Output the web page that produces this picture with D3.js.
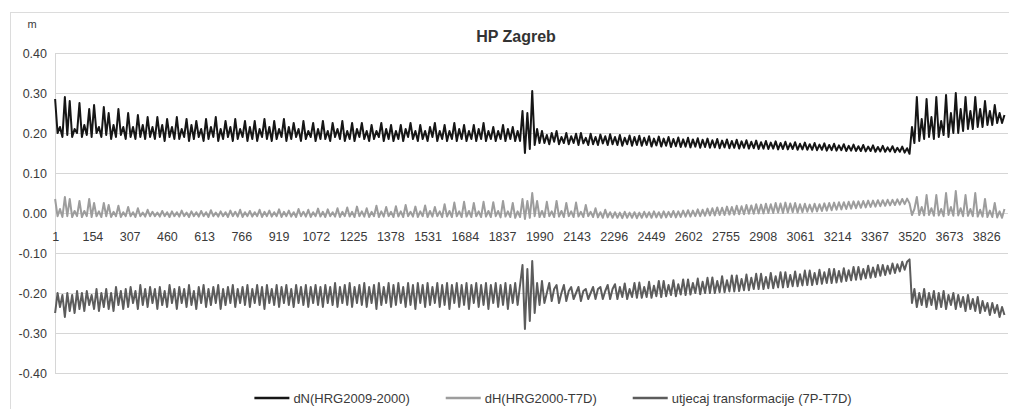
<!DOCTYPE html>
<html>
<head>
<meta charset="utf-8">
<script src="https://cdn.jsdelivr.net/npm/d3@7"></script>
<style>
  body { margin: 0; background: #fff; }
  text { font-family: "Liberation Sans", Arial, sans-serif; }
</style>
</head>
<body>
<div id="chart"></div>
<script>
const nPoints = 3915;
const sampleStep = 10;

const yTicks = [0.4, 0.3, 0.2, 0.1, 0, -0.1, -0.2, -0.3, -0.4];
const xTicks = [1, 154, 307, 460, 613, 766, 919, 1072, 1225, 1378, 1531, 1684, 1837, 1990,
  2143, 2296, 2449, 2602, 2755, 2908, 3061, 3214, 3367, 3520, 3673, 3826];

const seriesNames = ["dN(HRG2009-2000)", "dH(HRG2000-T7D)", "utjecaj transformacije (7P-T7D)"];

const dN = [
  0.285,0.2,0.215,0.19,0.29,0.195,0.28,0.19,0.21,0.2,
  0.275,0.19,0.22,0.195,0.26,0.19,0.27,0.2,0.215,0.19,
  0.265,0.195,0.25,0.185,0.22,0.19,0.26,0.195,0.215,0.185,
  0.25,0.19,0.215,0.185,0.245,0.19,0.22,0.185,0.24,0.19,
  0.215,0.185,0.24,0.19,0.22,0.18,0.235,0.19,0.215,0.185,
  0.24,0.185,0.21,0.19,0.235,0.18,0.22,0.185,0.23,0.19,
  0.21,0.18,0.235,0.185,0.215,0.19,0.24,0.18,0.21,0.185,
  0.23,0.19,0.215,0.18,0.235,0.185,0.21,0.19,0.23,0.18,
  0.215,0.185,0.23,0.18,0.21,0.19,0.235,0.185,0.215,0.18,
  0.23,0.185,0.21,0.19,0.235,0.18,0.215,0.185,0.225,0.19,
  0.21,0.18,0.23,0.185,0.205,0.19,0.225,0.18,0.21,0.185,
  0.23,0.185,0.205,0.18,0.225,0.19,0.21,0.185,0.23,0.18,
  0.205,0.185,0.225,0.18,0.21,0.19,0.225,0.185,0.205,0.18,
  0.22,0.185,0.205,0.19,0.225,0.18,0.21,0.185,0.22,0.18,
  0.205,0.185,0.22,0.18,0.21,0.19,0.225,0.185,0.205,0.18,
  0.22,0.185,0.205,0.18,0.215,0.19,0.225,0.18,0.205,0.185,
  0.22,0.18,0.205,0.185,0.225,0.18,0.21,0.185,0.22,0.18,
  0.205,0.185,0.22,0.18,0.21,0.185,0.225,0.18,0.205,0.185,
  0.215,0.18,0.205,0.185,0.22,0.18,0.21,0.185,0.215,0.18,
  0.205,0.18,0.255,0.15,0.25,0.16,0.305,0.17,0.21,0.175,
  0.205,0.175,0.195,0.172,0.2,0.178,0.205,0.172,0.19,0.175,
  0.2,0.172,0.192,0.175,0.198,0.17,0.2,0.174,0.188,0.17,
  0.198,0.172,0.19,0.17,0.196,0.174,0.192,0.17,0.197,0.172,
  0.19,0.17,0.195,0.168,0.188,0.172,0.194,0.168,0.19,0.17,
  0.193,0.168,0.188,0.17,0.192,0.166,0.186,0.169,0.191,0.166,
  0.186,0.168,0.19,0.165,0.185,0.167,0.189,0.165,0.184,0.166,
  0.188,0.164,0.184,0.166,0.187,0.163,0.183,0.165,0.186,0.163,
  0.182,0.164,0.185,0.162,0.181,0.164,0.184,0.162,0.18,0.163,
  0.183,0.161,0.179,0.163,0.182,0.161,0.178,0.162,0.181,0.16,
  0.177,0.161,0.18,0.16,0.176,0.161,0.179,0.159,0.175,0.16,
  0.178,0.159,0.174,0.16,0.177,0.158,0.173,0.159,0.176,0.158,
  0.172,0.158,0.175,0.157,0.171,0.158,0.174,0.156,0.17,0.157,
  0.173,0.156,0.169,0.157,0.172,0.155,0.168,0.156,0.171,0.155,
  0.167,0.155,0.17,0.154,0.166,0.155,0.169,0.153,0.165,0.154,
  0.168,0.153,0.164,0.154,0.167,0.152,0.163,0.153,0.166,0.151,
  0.162,0.148,0.215,0.175,0.29,0.18,0.235,0.185,0.285,0.19,
  0.24,0.185,0.29,0.19,0.23,0.195,0.295,0.19,0.25,0.2,
  0.3,0.2,0.26,0.205,0.29,0.21,0.255,0.21,0.29,0.215,
  0.26,0.215,0.28,0.22,0.255,0.22,0.27,0.225,0.25,0.225,
  0.245
];

const dH = [
  0.035,-0.008,0.01,-0.01,0.04,-0.008,0.035,-0.01,0.005,-0.008,
  0.03,-0.01,0.005,-0.008,0.035,-0.01,0.025,-0.008,0.004,-0.01,
  0.025,-0.008,0.02,-0.01,0.003,-0.008,0.018,-0.01,0.002,-0.008,
  0.015,-0.008,0.002,-0.01,0.012,-0.008,0.001,-0.009,0.008,-0.008,
  0.003,-0.008,0.001,-0.009,0.005,-0.008,0.002,-0.01,0.004,-0.008,
  0.002,-0.009,0.006,-0.008,0.001,-0.01,0.004,-0.008,0.002,-0.009,
  0.005,-0.008,0.002,-0.01,0.007,-0.008,0.001,-0.009,0.004,-0.008,
  0.002,-0.01,0.006,-0.008,0.003,-0.009,0.008,-0.01,0.002,-0.008,
  0.005,-0.009,0.002,-0.008,0.008,-0.01,0.003,-0.008,0.006,-0.009,
  0.002,-0.008,0.009,-0.01,0.003,-0.008,0.006,-0.009,0.002,-0.01,
  0.01,-0.008,0.003,-0.009,0.008,-0.01,0.002,-0.008,0.011,-0.009,
  0.003,-0.01,0.009,-0.008,0.002,-0.009,0.012,-0.01,0.003,-0.008,
  0.014,-0.009,0.003,-0.01,0.016,-0.008,0.004,-0.009,0.012,-0.01,
  0.003,-0.008,0.018,-0.01,0.004,-0.009,0.015,-0.008,0.003,-0.01,
  0.017,-0.009,0.004,-0.01,0.02,-0.008,0.003,-0.009,0.016,-0.01,
  0.004,-0.008,0.019,-0.01,0.005,-0.009,0.015,-0.008,0.004,-0.01,
  0.022,-0.009,0.005,-0.01,0.026,-0.008,0.004,-0.01,0.028,-0.009,
  0.005,-0.01,0.025,-0.008,0.004,-0.01,0.028,-0.009,0.005,-0.01,
  0.027,-0.008,0.005,-0.011,0.03,-0.009,0.004,-0.01,0.025,-0.012,
  0.004,-0.01,0.035,-0.015,0.03,-0.012,0.05,-0.008,0.03,-0.01,
  0.005,-0.01,0.028,-0.008,0.004,-0.01,0.03,-0.009,0.005,-0.01,
  0.025,-0.008,0.004,-0.01,0.026,-0.009,0.003,-0.01,0.02,-0.008,
  0.003,-0.01,0.012,-0.011,0.002,-0.012,0.008,-0.011,0.002,-0.012,
  0.002,-0.012,0.001,-0.013,0.003,-0.012,0.001,-0.012,0.002,-0.013,
  0.001,-0.012,0.003,-0.011,0.002,-0.012,0.004,-0.011,0.002,-0.012,
  0.004,-0.011,0.003,-0.01,0.005,-0.011,0.004,-0.01,0.006,-0.009,
  0.007,-0.009,0.006,-0.008,0.009,-0.008,0.008,-0.007,0.011,-0.006,
  0.012,-0.006,0.014,-0.005,0.013,-0.005,0.016,-0.004,0.015,-0.004,
  0.018,-0.003,0.017,-0.003,0.02,-0.002,0.019,-0.002,0.022,-0.001,
  0.021,-0.001,0.023,0.0,0.022,0.0,0.025,0.001,0.024,0.0,
  0.026,0.001,0.024,0.002,0.025,0.001,0.022,0.002,0.023,0.003,
  0.021,0.003,0.023,0.004,0.022,0.005,0.024,0.006,0.025,0.007,
  0.026,0.008,0.027,0.009,0.027,0.01,0.028,0.011,0.029,0.012,
  0.029,0.013,0.03,0.014,0.031,0.015,0.031,0.016,0.032,0.017,
  0.032,0.018,0.033,0.019,0.033,0.02,0.034,0.021,0.035,0.022,
  0.036,0.024,-0.005,0.01,0.04,-0.005,0.015,-0.006,0.045,-0.005,
  0.012,-0.007,0.045,-0.006,0.01,-0.008,0.05,-0.005,0.015,-0.007,
  0.055,-0.006,0.012,-0.008,0.045,-0.007,0.01,-0.008,0.05,-0.009,
  0.008,-0.009,0.035,-0.01,0.006,-0.01,0.025,-0.011,0.004,-0.012,
  0.01
];

const utjecaj = [
  -0.25,-0.2,-0.235,-0.205,-0.26,-0.2,-0.245,-0.205,-0.25,-0.195,
  -0.24,-0.2,-0.245,-0.195,-0.23,-0.205,-0.24,-0.19,-0.245,-0.2,
  -0.235,-0.19,-0.24,-0.2,-0.245,-0.185,-0.23,-0.195,-0.24,-0.19,
  -0.235,-0.185,-0.225,-0.195,-0.24,-0.18,-0.23,-0.19,-0.235,-0.185,
  -0.225,-0.19,-0.24,-0.185,-0.23,-0.195,-0.235,-0.18,-0.225,-0.19,
  -0.24,-0.185,-0.225,-0.19,-0.235,-0.18,-0.23,-0.195,-0.24,-0.185,
  -0.225,-0.18,-0.235,-0.19,-0.23,-0.185,-0.225,-0.18,-0.24,-0.19,
  -0.23,-0.185,-0.225,-0.18,-0.235,-0.19,-0.225,-0.185,-0.23,-0.18,
  -0.235,-0.19,-0.225,-0.18,-0.23,-0.185,-0.24,-0.18,-0.225,-0.19,
  -0.23,-0.18,-0.235,-0.185,-0.225,-0.18,-0.23,-0.19,-0.235,-0.18,
  -0.225,-0.185,-0.23,-0.18,-0.235,-0.185,-0.225,-0.18,-0.23,-0.185,
  -0.235,-0.18,-0.225,-0.185,-0.23,-0.175,-0.235,-0.185,-0.225,-0.18,
  -0.23,-0.175,-0.235,-0.185,-0.225,-0.18,-0.23,-0.175,-0.235,-0.185,
  -0.225,-0.18,-0.24,-0.175,-0.23,-0.185,-0.225,-0.175,-0.235,-0.18,
  -0.23,-0.175,-0.225,-0.185,-0.235,-0.175,-0.23,-0.18,-0.24,-0.175,
  -0.225,-0.18,-0.235,-0.175,-0.23,-0.185,-0.225,-0.175,-0.235,-0.18,
  -0.23,-0.175,-0.24,-0.18,-0.225,-0.175,-0.235,-0.18,-0.23,-0.175,
  -0.24,-0.18,-0.225,-0.175,-0.235,-0.18,-0.23,-0.175,-0.24,-0.18,
  -0.225,-0.175,-0.235,-0.18,-0.23,-0.175,-0.24,-0.18,-0.225,-0.175,
  -0.23,-0.18,-0.13,-0.29,-0.14,-0.27,-0.12,-0.25,-0.175,-0.23,
  -0.17,-0.225,-0.2,-0.175,-0.22,-0.19,-0.18,-0.225,-0.2,-0.18,
  -0.22,-0.195,-0.185,-0.215,-0.2,-0.185,-0.22,-0.195,-0.19,-0.215,
  -0.2,-0.185,-0.215,-0.19,-0.185,-0.215,-0.195,-0.18,-0.215,-0.19,
  -0.178,-0.215,-0.185,-0.21,-0.176,-0.215,-0.19,-0.21,-0.175,-0.212,
  -0.174,-0.212,-0.185,-0.21,-0.172,-0.212,-0.182,-0.208,-0.17,-0.21,
  -0.17,-0.208,-0.18,-0.205,-0.168,-0.208,-0.178,-0.204,-0.166,-0.205,
  -0.166,-0.204,-0.175,-0.2,-0.164,-0.203,-0.172,-0.2,-0.162,-0.2,
  -0.161,-0.2,-0.17,-0.198,-0.158,-0.198,-0.168,-0.196,-0.156,-0.196,
  -0.156,-0.195,-0.165,-0.193,-0.154,-0.193,-0.162,-0.19,-0.152,-0.19,
  -0.152,-0.19,-0.16,-0.188,-0.15,-0.188,-0.158,-0.186,-0.148,-0.186,
  -0.148,-0.185,-0.155,-0.183,-0.146,-0.183,-0.153,-0.181,-0.144,-0.18,
  -0.144,-0.18,-0.15,-0.178,-0.142,-0.177,-0.148,-0.175,-0.14,-0.175,
  -0.14,-0.174,-0.145,-0.172,-0.138,-0.17,-0.143,-0.168,-0.135,-0.167,
  -0.135,-0.166,-0.14,-0.163,-0.132,-0.162,-0.136,-0.16,-0.13,-0.157,
  -0.13,-0.155,-0.132,-0.152,-0.126,-0.15,-0.128,-0.146,-0.122,-0.142,
  -0.122,-0.116,-0.225,-0.19,-0.235,-0.2,-0.23,-0.19,-0.235,-0.2,
  -0.23,-0.195,-0.24,-0.2,-0.235,-0.195,-0.24,-0.205,-0.23,-0.2,
  -0.24,-0.205,-0.235,-0.21,-0.245,-0.205,-0.24,-0.215,-0.245,-0.21,
  -0.25,-0.22,-0.245,-0.225,-0.255,-0.225,-0.25,-0.23,-0.26,-0.235,
  -0.255
];

const colors = ["#161616", "#9d9d9d", "#5c5c5c"];

const width = 1009;
const height = 409;
const plot = { left: 55, right: 1008, top: 53, bottom: 373 };

const svg = d3.select("#chart")
  .append("svg")
  .attr("width", width)
  .attr("height", height);

// outer chart frame (runs off the picture on the right and bottom)
svg.append("rect")
  .attr("x", 10.5).attr("y", 12.5)
  .attr("width", 1010).attr("height", 410)
  .attr("fill", "none")
  .attr("stroke", "#dcdcdc");

const x = d3.scaleLinear()
  .domain([0.5, nPoints + 0.5])
  .range([plot.left, plot.right]);

const y = d3.scaleLinear()
  .domain([-0.4, 0.4])
  .range([plot.bottom, plot.top]);

// horizontal gridlines
svg.append("g")
  .selectAll("line")
  .data(yTicks)
  .join("line")
    .attr("x1", plot.left).attr("x2", plot.right)
    .attr("y1", d => Math.round(y(d)) + 0.5)
    .attr("y2", d => Math.round(y(d)) + 0.5)
    .attr("stroke", "#d6d6d6");

svg.append("line")
  .attr("x1", plot.left + 0.5).attr("x2", plot.left + 0.5)
  .attr("y1", plot.top).attr("y2", plot.bottom)
  .attr("stroke", "#d6d6d6");

// y axis labels
const yAxis = svg.append("g")
  .attr("transform", `translate(${plot.left},0)`)
  .call(d3.axisLeft(y).tickValues(yTicks).tickSize(0).tickPadding(8)
    .tickFormat(d => d3.format(".2f")(d).replace("\u2212", "-")));
yAxis.select(".domain").remove();
yAxis.selectAll("text").attr("font-size", 12.5).attr("fill", "#3a3a3a")
  .attr("font-family", "Liberation Sans, Arial, sans-serif");

// category labels sit on the zero line
const xAxis = svg.append("g")
  .attr("transform", `translate(0,${y(0)})`)
  .call(d3.axisBottom(x).tickValues(xTicks).tickSize(0).tickPadding(19)
    .tickFormat(d => d));
xAxis.select(".domain").remove();
xAxis.selectAll("text").attr("font-size", 12.5).attr("fill", "#3a3a3a")
  .attr("font-family", "Liberation Sans, Arial, sans-serif");

// lines
const series = [dN, dH, utjecaj];
const line = d3.line()
  .x((d, i) => x(1 + i * sampleStep))
  .y(d => y(d));

svg.append("g")
  .attr("fill", "none")
  .attr("stroke-linejoin", "round")
  .selectAll("path")
  .data(series)
  .join("path")
    .attr("stroke", (d, i) => colors[i])
    .attr("stroke-width", 2)
    .attr("d", line);

// title and unit
svg.append("text")
  .attr("x", 516).attr("y", 42)
  .attr("text-anchor", "middle")
  .attr("font-size", 16)
  .attr("font-weight", "bold")
  .attr("fill", "#333")
  .text("HP Zagreb");

svg.append("text")
  .attr("x", 32).attr("y", 28)
  .attr("text-anchor", "middle")
  .attr("font-size", 11)
  .attr("fill", "#3a3a3a")
  .text("m");

// legend, laid out left to right then centred
const legend = svg.append("g");
let cursor = 0;
seriesNames.forEach((name, i) => {
  const g = legend.append("g").attr("transform", `translate(${cursor},0)`);
  g.append("line")
    .attr("x1", 0).attr("x2", 35)
    .attr("stroke", colors[i])
    .attr("stroke-width", 2.5);
  const t = g.append("text")
    .attr("x", 39).attr("dy", "0.35em")
    .attr("font-size", 13)
    .attr("fill", "#3a3a3a")
    .text(name);
  cursor += 39 + t.node().getComputedTextLength() + 36;
});
const legendWidth = cursor - 36;
legend.attr("transform", `translate(${553 - legendWidth / 2},398)`);
</script>
</body>
</html>
